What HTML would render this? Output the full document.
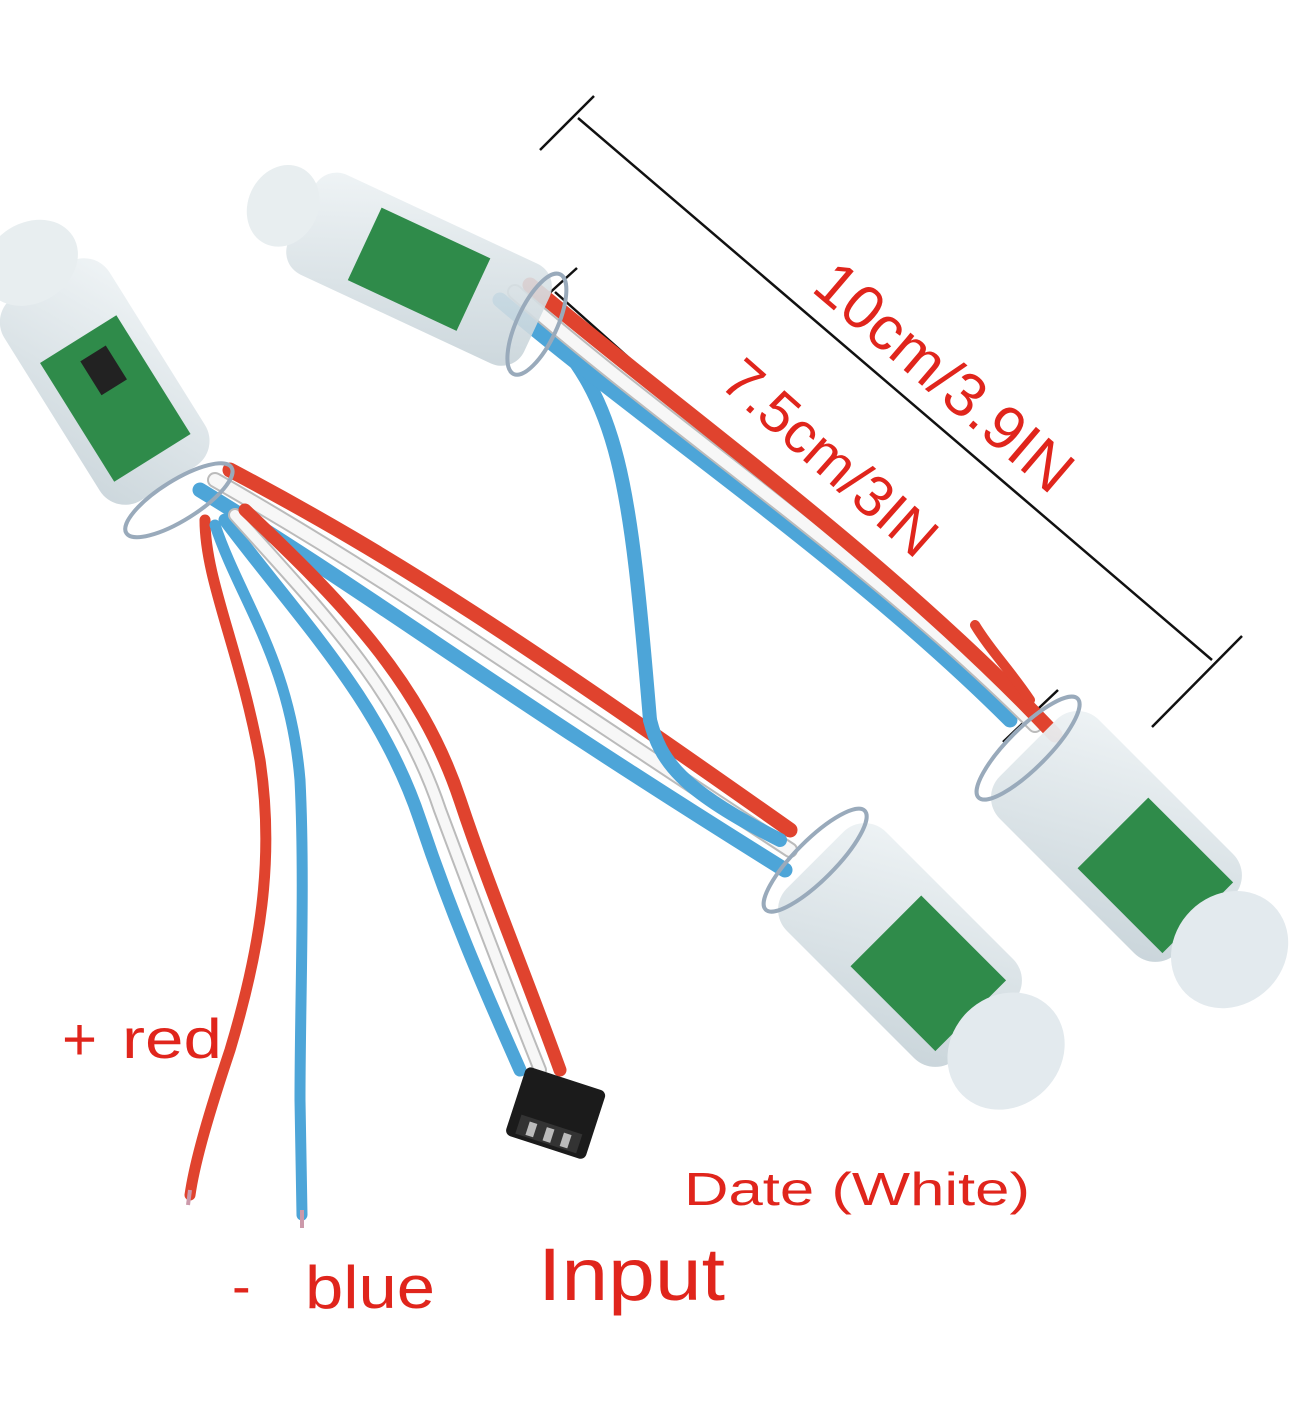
<!DOCTYPE html>
<html><head><meta charset="utf-8"><style>
html,body{margin:0;padding:0;background:#fff;width:1290px;height:1412px;overflow:hidden}
svg{display:block}
text{font-family:"Liberation Sans",sans-serif;fill:#e0251c}
</style></head><body>
<svg width="1290" height="1412" viewBox="0 0 1290 1412" xmlns="http://www.w3.org/2000/svg">
<defs>
<linearGradient id="cap" x1="0" y1="0" x2="1" y2="1"><stop offset="0" stop-color="#eef3f5"/><stop offset="1" stop-color="#c6d2d8"/></linearGradient>
</defs>
<g stroke="#111" stroke-width="2.5" fill="none">
<line x1="578" y1="118" x2="1212" y2="660"/>
<line x1="540" y1="150" x2="594" y2="96"/>
<line x1="1152" y1="727" x2="1242" y2="636"/>
<line x1="555" y1="292" x2="1030" y2="715"/>
<line x1="533" y1="308" x2="577" y2="268"/>
<line x1="1003" y1="742" x2="1058" y2="690"/>
</g>
<text x="0" y="0" font-size="62" transform="translate(810,290) rotate(40.5)">10cm/3.9IN</text>
<text x="0" y="0" font-size="58" transform="translate(718,385) rotate(41.5)">7.5cm/3IN</text>

<g fill="none" stroke-linecap="round">
<path d="M230 470 C400 560 520 640 790 830" stroke="#e0432e" stroke-width="15"/>
<path d="M215 480 C390 580 500 660 790 850" stroke="#bbb" stroke-width="16"/>
<path d="M215 480 C390 580 500 660 790 850" stroke="#f7f7f7" stroke-width="12"/>
<path d="M200 490 C380 600 480 680 785 870" stroke="#4da5d8" stroke-width="15"/>
<path d="M540 320 C620 400 630 480 650 720" stroke="#4da5d8" stroke-width="14"/>
<path d="M650 720 C660 760 680 790 780 840" stroke="#4da5d8" stroke-width="14"/>
<path d="M500 300 C640 420 850 560 1010 720" stroke="#4da5d8" stroke-width="15"/>
<path d="M515 292 C660 420 870 560 1035 725" stroke="#bbb" stroke-width="16"/>
<path d="M515 292 C660 420 870 560 1035 725" stroke="#f7f7f7" stroke-width="12"/>
<path d="M530 285 C690 420 890 560 1055 735" stroke="#e0432e" stroke-width="15"/>
<path d="M975 625 C990 650 1010 670 1030 700" stroke="#e0432e" stroke-width="10"/>
<path d="M205 520 C205 580 240 650 260 760 C275 860 260 950 230 1050 C210 1110 195 1160 190 1195" stroke="#e0432e" stroke-width="11"/>
<path d="M215 525 C240 600 290 660 300 780 C305 880 300 1000 300 1100 L302 1215" stroke="#4da5d8" stroke-width="11"/>
<path d="M225 520 C300 620 380 700 420 820 C450 910 480 980 520 1070" stroke="#4da5d8" stroke-width="13"/>
<path d="M235 515 C320 610 400 690 440 810 C470 890 500 970 540 1070" stroke="#bbb" stroke-width="14"/>
<path d="M235 515 C320 610 400 690 440 810 C470 890 500 970 540 1070" stroke="#f7f7f7" stroke-width="10"/>
<path d="M245 510 C340 600 420 680 460 800 C490 890 520 960 560 1070" stroke="#e0432e" stroke-width="13"/>
</g>
<line x1="190" y1="1190" x2="188" y2="1205" stroke="#c9a" stroke-width="4"/>
<line x1="302" y1="1210" x2="302" y2="1228" stroke="#c9a" stroke-width="4"/>

<g transform="translate(555,1115) rotate(18)">
<rect x="-42" y="-38" width="84" height="72" rx="6" fill="#1b1b1b"/>
<rect x="-32" y="10" width="64" height="20" fill="#333"/>
<rect x="-22" y="14" width="8" height="14" fill="#bbb"/><rect x="-4" y="14" width="8" height="14" fill="#bbb"/><rect x="14" y="14" width="8" height="14" fill="#bbb"/>
</g>

<g>
<g transform="translate(110,390) rotate(58)">
<rect x="-130" y="-62" width="240" height="124" rx="30" fill="url(#cap)" opacity="0.9"/>
<rect x="-60" y="-45" width="140" height="90" fill="#2f8b4a"/>
<rect x="-40" y="-20" width="40" height="30" fill="#222"/>
<ellipse cx="-150" cy="0" rx="40" ry="50" fill="#e8eef0"/>
<ellipse cx="130" cy="0" rx="20" ry="62" fill="none" stroke="#9ab" stroke-width="4"/>
</g>
<g transform="translate(410,265) rotate(25)">
<rect x="-120" y="-55" width="260" height="110" rx="25" fill="url(#cap)" opacity="0.9"/>
<rect x="-50" y="-40" width="120" height="80" fill="#2f8b4a"/>
<ellipse cx="-140" cy="0" rx="35" ry="42" fill="#e8eef0"/>
<ellipse cx="140" cy="0" rx="20" ry="55" fill="none" stroke="#9ab" stroke-width="4"/>
</g>
<g transform="translate(900,945) rotate(45)">
<rect x="-120" y="-70" width="240" height="140" rx="30" fill="url(#cap)" opacity="0.95"/>
<rect x="-20" y="-50" width="120" height="100" fill="#2f8b4a"/>
<ellipse cx="150" cy="0" rx="55" ry="62" fill="#e3eaee"/>
<ellipse cx="-120" cy="0" rx="20" ry="70" fill="none" stroke="#9ab" stroke-width="4"/>
</g>
<g transform="translate(1120,840) rotate(45)">
<rect x="-130" y="-70" width="250" height="140" rx="30" fill="url(#cap)" opacity="0.95"/>
<rect x="-10" y="-50" width="120" height="100" fill="#2f8b4a"/>
<ellipse cx="155" cy="0" rx="55" ry="62" fill="#e3eaee"/>
<ellipse cx="-130" cy="0" rx="20" ry="70" fill="none" stroke="#9ab" stroke-width="4"/>
</g>
</g>

<text x="62" y="1060" font-size="60">+</text>
<text x="122" y="1058" font-size="56" textLength="100" lengthAdjust="spacingAndGlyphs">red</text>
<text x="232" y="1305" font-size="56">-</text>
<text x="305" y="1308" font-size="60" textLength="130" lengthAdjust="spacingAndGlyphs">blue</text>
<text x="538" y="1300" font-size="74" textLength="187" lengthAdjust="spacingAndGlyphs">Input</text>
<text x="684" y="1205" font-size="46" textLength="346" lengthAdjust="spacingAndGlyphs">Date (White)</text>
</svg>
</body></html>
